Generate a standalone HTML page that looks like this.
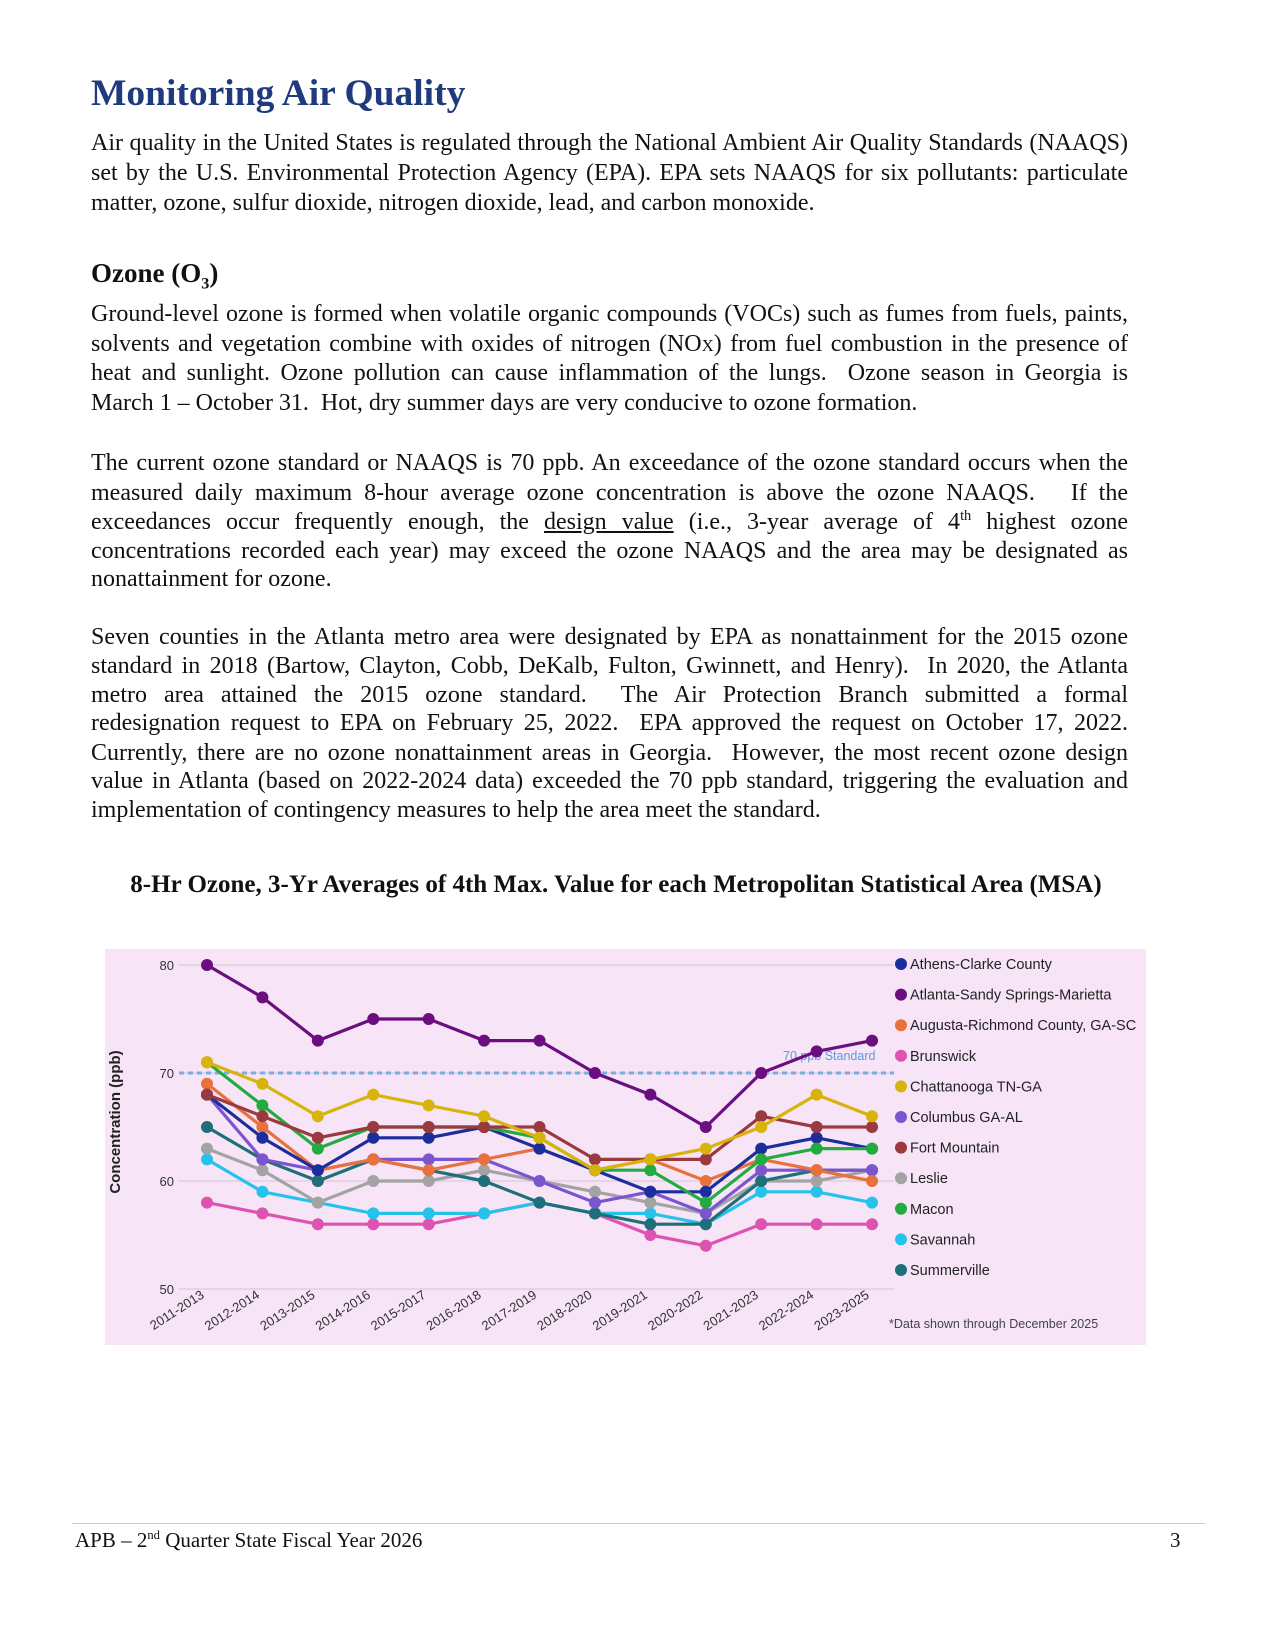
<!DOCTYPE html>
<html><head><meta charset="utf-8">
<style>
body{margin:0;background:#fff;}
.page{position:relative;width:1275px;height:1650px;overflow:hidden;font-family:"Liberation Serif",serif;color:#111;}
.l{position:absolute;left:91px;width:1037px;font-size:24px;line-height:29px;white-space:nowrap;}
.j{text-align:justify;text-align-last:justify;white-space:normal;word-spacing:-2px;height:29px;}
h1{position:absolute;left:91px;top:72px;margin:0;font-size:37.5px;color:#1f3a7d;font-weight:bold;}
h2{position:absolute;left:91px;top:258px;margin:0;font-size:27px;font-weight:bold;}
.ct{position:absolute;left:0;width:1232px;text-align:center;top:871px;font-size:25px;font-weight:bold;}
sub,sup{font-size:60%;line-height:0;}
</style></head><body><div class="page">
<h1>Monitoring Air Quality</h1>
<div class="l j" style="top:129px">Air quality in the United States is regulated through the National Ambient Air Quality Standards (NAAQS)</div>
<div class="l j" style="top:159px">set by the U.S. Environmental Protection Agency (EPA). EPA sets NAAQS for six pollutants: particulate</div>
<div class="l" style="top:189px">matter, ozone, sulfur dioxide, nitrogen dioxide, lead, and carbon monoxide.</div>
<h2>Ozone (O<sub>3</sub>)</h2>
<div class="l j" style="top:300px">Ground-level ozone is formed when volatile organic compounds (VOCs) such as fumes from fuels, paints,</div>
<div class="l j" style="top:330px">solvents and vegetation combine with oxides of nitrogen (NO<span style="font-size:70%">X</span>) from fuel combustion in the presence of</div>
<div class="l j" style="top:359px">heat and sunlight. Ozone pollution can cause inflammation of the lungs. &nbsp;Ozone season in Georgia is</div>
<div class="l" style="top:389px">March 1 – October 31. &nbsp;Hot, dry summer days are very conducive to ozone formation.</div>
<div class="l j" style="top:449px">The current ozone standard or NAAQS is 70 ppb. An exceedance of the ozone standard occurs when the</div>
<div class="l j" style="top:479px">measured daily maximum 8-hour average ozone concentration is above the ozone NAAQS. &nbsp; If the</div>
<div class="l j" style="top:508px">exceedances occur frequently enough, the <u>design value</u> (i.e., 3-year average of 4<sup>th</sup> highest ozone</div>
<div class="l j" style="top:537px">concentrations recorded each year) may exceed the ozone NAAQS and the area may be designated as</div>
<div class="l" style="top:565px">nonattainment for ozone.</div>
<div class="l j" style="top:623px">Seven counties in the Atlanta metro area were designated by EPA as nonattainment for the 2015 ozone</div>
<div class="l j" style="top:652px">standard in 2018 (Bartow, Clayton, Cobb, DeKalb, Fulton, Gwinnett, and Henry). &nbsp;In 2020, the Atlanta</div>
<div class="l j" style="top:681px">metro area attained the 2015 ozone standard. &nbsp;The Air Protection Branch submitted a formal</div>
<div class="l j" style="top:709px">redesignation request to EPA on February 25, 2022. &nbsp;EPA approved the request on October 17, 2022.</div>
<div class="l j" style="top:739px">Currently, there are no ozone nonattainment areas in Georgia. &nbsp;However, the most recent ozone design</div>
<div class="l j" style="top:767px">value in Atlanta (based on 2022-2024 data) exceeded the 70 ppb standard, triggering the evaluation and</div>
<div class="l" style="top:796px">implementation of contingency measures to help the area meet the standard.</div>
<div class="ct">8-Hr Ozone, 3-Yr Averages of 4th Max. Value for each Metropolitan Statistical Area (MSA)</div>
<div style="position:absolute;left:72px;top:1523px;width:1133px;border-top:1px solid #ccc"></div>
<div style="position:absolute;left:75px;top:1528px;font-size:21px">APB – 2<sup>nd</sup> Quarter State Fiscal Year 2026</div>
<div style="position:absolute;left:1170px;top:1528px;font-size:21px">3</div>
<svg id="c" style="position:absolute;left:0;top:0" width="1275" height="1650" font-family="Liberation Sans, sans-serif"></svg>
</div>
<script>
const s=document.getElementById('c');let h='';
h+='<rect x="105" y="949" width="1041" height="396" fill="#f7e4f7"/>';
const Y=v=>965+(80-v)*10.8, X=i=>207+i*55.42;
[80,70,60,50].forEach(v=>{h+=`<line x1="179" x2="894" y1="${Y(v)}" y2="${Y(v)}" stroke="#ddcfe0" stroke-width="1.5"/><text x="174" y="${Y(v)+5}" font-size="13" text-anchor="end" fill="#333">${v}</text>`;});
h+=`<line x1="179" x2="894" y1="${Y(70)}" y2="${Y(70)}" stroke="#7aaee0" stroke-width="3" stroke-dasharray="5,4"/>`;
h+=`<text x="783" y="1060" font-size="12.5" fill="#5b9bd8">70 ppb Standard</text>`;
h+=`<text transform="translate(120,1122) rotate(-90)" font-size="15" font-weight="bold" text-anchor="middle" fill="#222">Concentration (ppb)</text>`;
const labs=['2011-2013','2012-2014','2013-2015','2014-2016','2015-2017','2016-2018','2017-2019','2018-2020','2019-2021','2020-2022','2021-2023','2022-2024','2023-2025'];
labs.forEach((t,i)=>{h+=`<text transform="translate(${X(i)-2},1297) rotate(-33)" font-size="13" text-anchor="end" fill="#333">${t}</text>`;});
const S=[
['Athens-Clarke County','#1c2e9c',[68,64,61,64,64,65,63,61,59,59,63,64,63]],
['Atlanta-Sandy Springs-Marietta','#6a0e80',[80,77,73,75,75,73,73,70,68,65,70,72,73]],
['Augusta-Richmond County, GA-SC','#e8713c',[69,65,61,62,61,62,63,61,62,60,62,61,60]],
['Brunswick','#de52b0',[58,57,56,56,56,57,58,57,55,54,56,56,56]],
['Chattanooga TN-GA','#d8b40a',[71,69,66,68,67,66,64,61,62,63,65,68,66]],
['Columbus GA-AL','#7a55cf',[68,62,61,62,62,62,60,58,59,57,61,61,61]],
['Fort Mountain','#9a3a3e',[68,66,64,65,65,65,65,62,62,62,66,65,65]],
['Leslie','#a3a3a3',[63,61,58,60,60,61,60,59,58,57,60,60,61]],
['Macon','#22ac40',[71,67,63,65,65,65,64,61,61,58,62,63,63]],
['Savannah','#25c3ec',[62,59,58,57,57,57,58,57,57,56,59,59,58]],
['Summerville','#1f6f78',[65,62,60,62,61,60,58,57,56,56,60,61,61]]];
const order=[3,9,7,10,5,2,0,8,6,4,1];
order.forEach(k=>{const [n,c,d]=S[k];h+=`<polyline fill="none" stroke="${c}" stroke-width="3.2" stroke-linejoin="round" points="${d.map((v,i)=>X(i)+','+Y(v)).join(' ')}"/>`;d.forEach((v,i)=>{h+=`<circle cx="${X(i)}" cy="${Y(v)}" r="6" fill="${c}"/>`;});});
S.forEach(([n,c],i)=>{const y=964+i*30.6;h+=`<circle cx="901" cy="${y}" r="6" fill="${c}"/><text x="910" y="${y+5}" font-size="14.5" fill="#222">${n}</text>`;});
h+=`<text x="889" y="1328" font-size="12.5" fill="#444">*Data shown through December 2025</text>`;
s.innerHTML=h;
</script>
</body></html>
